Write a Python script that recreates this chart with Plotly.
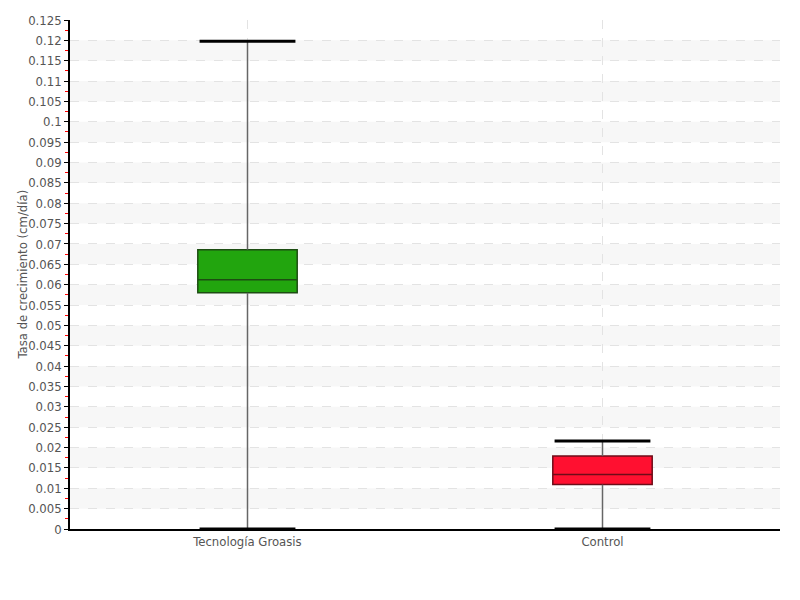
import plotly.graph_objects as go

categories = ["Tecnología Groasis", "Control"]
mins = [0.0, 0.0]
q1s = [0.058, 0.0109]
medians = [0.0612, 0.0134]
q3s = [0.0686, 0.0179]
maxs = [0.1198, 0.0216]
fills = ["#22a50e", "#ff1030"]
edges = ["#1d4d12", "#6e0c18"]
y_title = "Tasa de crecimiento (cm/día)"

y_step = 0.005
y_max = 0.125

fig = go.Figure()

# background bands
n = int(round(y_max / y_step))
for k in range(n):
    if k % 2 == 1:
        fig.add_shape(type="rect", xref="paper", yref="y", x0=0, x1=1,
                      y0=k * y_step, y1=(k + 1) * y_step,
                      fillcolor="#f7f7f7", line_width=0, layer="below")

xs = list(range(len(categories)))
box_w = 0.28
cap_half = 0.135

for i, cat in enumerate(categories):
    fig.add_trace(go.Box(
        x=[xs[i]], q1=[q1s[i]], median=[medians[i]], q3=[q3s[i]],
        lowerfence=[q1s[i]], upperfence=[q3s[i]],
        width=box_w, fillcolor=fills[i],
        line=dict(color=edges[i], width=1.5),
        whiskerwidth=0, boxpoints=False, showlegend=False, hoverinfo="skip"))
    fig.add_trace(go.Scatter(x=[xs[i], xs[i], None, xs[i], xs[i]],
                             y=[mins[i], q1s[i], None, q3s[i], maxs[i]],
                             mode="lines", line=dict(color="#666666", width=1.5),
                             showlegend=False, hoverinfo="skip"))
    fig.add_trace(go.Scatter(x=[xs[i] - cap_half, xs[i] + cap_half, None,
                                xs[i] - cap_half, xs[i] + cap_half],
                             y=[mins[i], mins[i], None, maxs[i], maxs[i]],
                             mode="lines", line=dict(color="#000000", width=3),
                             showlegend=False, hoverinfo="skip"))

font_family = "DejaVu Sans Condensed"

fig.add_annotation(text=y_title, textangle=-90, xref="paper", yref="paper",
                   x=0, y=0.5, xanchor="center", yanchor="middle", xshift=-48,
                   showarrow=False, font=dict(size=13, color="#555555"))

fig.update_layout(
    width=800, height=600,
    margin=dict(l=62, r=28, t=12, b=79, autoexpand=False),
    plot_bgcolor="white", paper_bgcolor="white",
    font=dict(family=font_family, size=14, color="#555555"),
    xaxis=dict(range=[-0.5, 1.5], tickvals=xs, ticktext=categories,
               showgrid=True, gridcolor="#e3e3e3", griddash="dash", gridwidth=1,
               showline=True, linecolor="#000000", linewidth=1.5,
               ticks="", zeroline=False, automargin=False,
               tickfont=dict(size=13, color="#555555")),
    yaxis=dict(range=[0, y_max], dtick=y_step, tick0=0,
               showgrid=True, gridcolor="#e3e3e3", griddash="dash", gridwidth=1,
               showline=True, linecolor="#000000", linewidth=1.5,
               ticks="outside", ticklen=4, tickcolor="#000000", tickwidth=1,
               zeroline=False, automargin=False,
               minor=dict(dtick=y_step / 2, ticks="outside", ticklen=3,
                          tickcolor="#ff0000", showgrid=False),
               tickfont=dict(size=13, color="#555555")),
)

fig.write_html("out.html")
